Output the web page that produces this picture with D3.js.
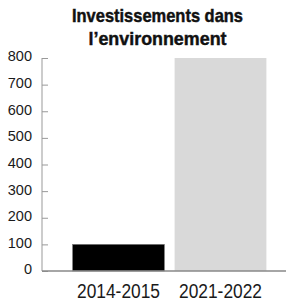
<!DOCTYPE html>
<html><head><meta charset="utf-8">
<script src="https://cdn.jsdelivr.net/npm/d3@7"></script>
<style>body{margin:0;background:#fff}svg{display:block}</style>
</head><body>
<script>
const categories = ["2014-2015", "2021-2022"];
const values = [100, 800];
const barColors = ["#000000", "#d9d9d9"];
const yTicks = [0, 100, 200, 300, 400, 500, 600, 700, 800];
const titleLines = ["Investissements dans", "l\u2019environnement"];

const W = 286, H = 303;
const svg = d3.select("body").append("svg").attr("width", W).attr("height", H);

const y = d3.scaleLinear().domain([0, 800]).range([271, 58]);
const x = d3.scaleBand().domain(categories).range([42, 297]).paddingInner(0.1).paddingOuter(0.3);

// title
const tl = [{t: titleLines[0], y: 21.5, w: 171}, {t: titleLines[1], y: 45, w: 138}];
svg.selectAll("text.title").data(tl).join("text")
  .attr("class", "title")
  .attr("x", 157.5).attr("y", d => d.y)
  .attr("text-anchor", "middle")
  .attr("font-family", "'Liberation Sans Narrow','Arial Narrow','Liberation Sans',sans-serif")
  .attr("font-weight", "bold").attr("font-size", 18.5)
  .attr("fill", "#111").attr("stroke", "#111").attr("stroke-width", 0.45)
  .attr("textLength", d => d.w).attr("lengthAdjust", "spacingAndGlyphs")
  .text(d => d.t);

// bars
svg.selectAll("rect.bar").data(values).join("rect")
  .attr("class", "bar")
  .attr("x", (d, i) => x(categories[i]))
  .attr("y", d => y(d))
  .attr("width", x.bandwidth())
  .attr("height", d => y(0) - y(d))
  .attr("fill", (d, i) => barColors[i])
  .attr("stroke", (d, i) => i === 0 ? "#777" : "none")
  .attr("stroke-width", 0.6);

// y axis
const yAxis = svg.append("g").attr("transform", "translate(42,0)")
  .call(d3.axisLeft(y).tickValues(yTicks).tickSize(-6).tickPadding(10));
yAxis.select(".domain").attr("stroke", "#999").attr("d", `M0,${y(800)}V${y(0)}`);
yAxis.selectAll(".tick line").attr("stroke", "#999");
yAxis.selectAll(".tick text")
  .attr("font-family", "'Liberation Sans',Arial,sans-serif")
  .attr("font-size", 14.5).attr("fill", "#1a1a1a").attr("dy", "0.2em");

// x baseline
svg.append("line").attr("x1", 42).attr("x2", 286).attr("y1", y(0)).attr("y2", y(0))
  .attr("stroke", "#888").attr("stroke-width", 1.3);

// x labels
const xAxis = svg.append("g").attr("transform", `translate(0,${y(0)})`)
  .call(d3.axisBottom(x).tickSize(0).tickPadding(0));
xAxis.select(".domain").remove();
xAxis.selectAll(".tick text")
  .attr("y", 27).attr("dy", 0)
  .attr("font-family", "'Liberation Sans',Arial,sans-serif")
  .attr("font-size", 20.5).attr("fill", "#1a1a1a")
  .attr("textLength", 83).attr("lengthAdjust", "spacingAndGlyphs");
</script>
</body></html>
